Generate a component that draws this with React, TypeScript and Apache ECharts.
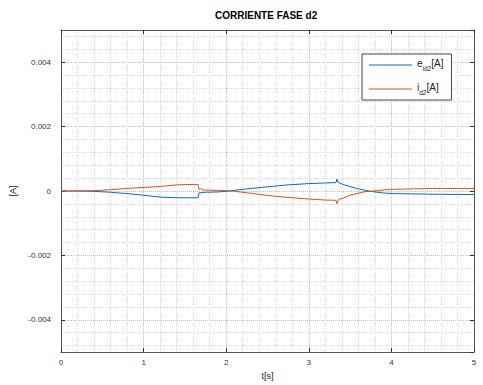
import React, { useEffect, useRef } from "react";
import * as echarts from "echarts";

// e_id2[A] (blue)
const eTime = [0, 0.2, 0.4, 0.6, 0.8, 1.0, 1.2, 1.4, 1.66, 1.67, 1.75, 1.9, 2.0, 2.1, 2.2, 2.3, 2.5, 2.75, 3.0, 3.2, 3.33, 3.34, 3.36, 3.43, 3.58, 3.74, 3.9, 4.0, 4.5, 5.0];
const eVal = [0, 0, -0.00001, -0.00004, -0.00008, -0.00013, -0.00019, -0.00021, -0.00021, -0.00006, -0.00004, -0.00003, -0.00001, 0.00002, 0.00005, 0.00008, 0.00013, 0.00019, 0.00023, 0.00025, 0.00026, 0.00037, 0.00026, 0.00019, 0.00008, -0.00001, -0.00006, -0.00008, -0.0001, -0.00011];

// i_d2[A] (orange)
const iTime = [0, 0.2, 0.4, 0.6, 0.8, 1.0, 1.2, 1.4, 1.5, 1.66, 1.67, 1.69, 1.72, 1.9, 2.0, 2.1, 2.2, 2.3, 2.5, 2.75, 3.0, 3.2, 3.33, 3.34, 3.36, 3.42, 3.5, 3.68, 3.74, 3.98, 4.5, 5.0];
const iVal = [0, 0, 0.00001, 0.00004, 0.00008, 0.00011, 0.00014, 0.00019, 0.0002, 0.0002, 0.00005, 0.00007, 0.00003, 0.00002, 0.00001, -0.00001, -0.00004, -0.00007, -0.00014, -0.0002, -0.00025, -0.00028, -0.00029, -0.0004, -0.00026, -0.00022, -0.00013, -0.00002, -0.00001, 0.00005, 0.00008, 0.00008];

const xTicks = [0, 1, 2, 3, 4, 5];
const yRange = [-0.005, 0.005];
const seriesNames = ["e_id2[A]", "i_d2[A]"];
const seriesColors = ["#0072BD", "#D95319"];

const TITLE = "CORRIENTE FASE d2";
const FONT = "Liberation Sans, Arial, Helvetica, sans-serif";

const MAJOR = "#c0c0c0";
const MINOR = "#dcdcdc";
const FRAME = "#555555";
const TEXT = "#222222";

export default function App() {
  const ref = useRef<HTMLDivElement>(null);
  useEffect(() => {
    if (!ref.current) return;
    const chart = echarts.init(ref.current, null, { renderer: "svg" });
    const ePts = eTime.map((t, k) => [t, eVal[k]]);
    const iPts = iTime.map((t, k) => [t, iVal[k]]);
    const T = "rgba(0,0,0,0)";
    // minor y grid: ticks every 0.0002 from -0.005, draw only at multiples of 0.0004 that are not majors
    const minorColors = [T, MINOR, T, MINOR, T, T, T, MINOR, T, MINOR];
    const option: any = {
      animation: false,
      backgroundColor: "#fff",
      textStyle: { fontFamily: FONT },
      title: {
        text: TITLE,
        left: 215,
        top: 10,
        padding: 0,
        textStyle: { fontSize: 10, fontWeight: "bold", color: "#000", fontFamily: FONT },
      },
      grid: { left: 61, right: 9, top: 30, bottom: 30, containLabel: false },
      legend: {
        orient: "vertical",
        left: 362,
        top: 54,
        padding: [4, 8, 4, 7],
        icon: "rect",
        itemWidth: 43,
        itemHeight: 1.2,
        itemGap: 10,
        borderColor: "#444",
        borderWidth: 1,
        backgroundColor: "#fff",
        data: seriesNames.map((n, k) => ({
          name: n,
          icon: "rect",
          itemStyle: { color: seriesColors[k], borderWidth: 0 },
          textStyle: { color: TEXT },
        })),
        formatter: (name: string) =>
          name === seriesNames[0] ? "{n|e}{s|id2}{n|[A]}" : "{n|i}{s|d2}{n|[A]}",
        textStyle: {
          fontFamily: FONT,
          color: TEXT,
          rich: {
            n: { fontSize: 10, color: TEXT, fontFamily: FONT, verticalAlign: "top", padding: [0, 0, 4, 0] },
            s: { fontSize: 6.5, color: TEXT, fontFamily: FONT, verticalAlign: "bottom", padding: [6, 0, 0, 0] },
          },
        },
      },
      xAxis: [
        {
          type: "value",
          min: xTicks[0],
          max: xTicks[xTicks.length - 1],
          interval: 1,
          position: "bottom",
          name: "t[s]",
          nameLocation: "middle",
          nameGap: 19,
          nameTextStyle: { fontSize: 9, color: TEXT, fontFamily: FONT },
          axisLine: { show: true, onZero: false, lineStyle: { color: FRAME, width: 1 } },
          axisTick: { show: true, inside: true, length: 4, lineStyle: { color: "#333" } },
          axisLabel: { fontSize: 8, color: "#333", margin: 6, fontFamily: FONT },
          minorTick: { show: false, splitNumber: 5 },
          minorSplitLine: { show: true, lineStyle: { color: MINOR, type: [1, 1], width: 1 } },
          splitLine: { show: true, lineStyle: { color: MAJOR, type: [1, 1], width: 1 } },
        },
        {
          type: "value",
          min: xTicks[0],
          max: xTicks[xTicks.length - 1],
          interval: 1,
          position: "top",
          axisLine: { show: true, onZero: false, lineStyle: { color: FRAME, width: 1 } },
          axisTick: { show: true, inside: true, length: 4, lineStyle: { color: "#333" } },
          axisLabel: { show: false },
          splitLine: { show: false },
        },
      ],
      yAxis: [
        {
          type: "value",
          min: yRange[0],
          max: yRange[1],
          splitNumber: 5,
          position: "left",
          name: "[A]",
          nameLocation: "middle",
          nameGap: 38,
          nameTextStyle: { fontSize: 9, color: TEXT, fontFamily: FONT },
          axisLine: { show: true, onZero: false, lineStyle: { color: FRAME, width: 1 } },
          axisTick: { show: true, inside: true, length: 4, lineStyle: { color: "#333" } },
          axisLabel: {
            fontSize: 8,
            color: "#333",
            margin: 10,
            fontFamily: FONT,
            showMinLabel: false,
            showMaxLabel: false,
            formatter: (v: number) => String(parseFloat(v.toFixed(4))),
          },
          splitLine: { show: true, lineStyle: { color: MAJOR, type: [1, 1], width: 1 } },
        },
        {
          type: "value",
          min: yRange[0],
          max: yRange[1],
          interval: 0.0002,
          position: "left",
          axisLine: { show: false },
          axisTick: { show: false },
          axisLabel: { show: false },
          splitLine: { show: true, lineStyle: { color: minorColors, type: [1, 1], width: 1 } },
        },
        {
          type: "value",
          min: yRange[0],
          max: yRange[1],
          splitNumber: 5,
          position: "right",
          axisLine: { show: true, onZero: false, lineStyle: { color: FRAME, width: 1 } },
          axisTick: { show: true, inside: true, length: 4, lineStyle: { color: "#333" } },
          axisLabel: { show: false },
          splitLine: { show: false },
        },
      ],
      series: [
        {
          name: seriesNames[0],
          type: "line",
          data: ePts,
          symbol: "none",
          smooth: false,
          lineStyle: { color: seriesColors[0], width: 1 },
          itemStyle: { color: seriesColors[0] },
          z: 3,
        },
        {
          name: seriesNames[1],
          type: "line",
          data: iPts,
          symbol: "none",
          smooth: false,
          lineStyle: { color: seriesColors[1], width: 1 },
          itemStyle: { color: seriesColors[1] },
          z: 4,
        },
      ],
    };
    chart.setOption(option);
    return () => chart.dispose();
  }, []);
  return (
    <div
      ref={ref}
      style={{ position: "fixed", left: 0, top: 0, width: 483, height: 385 }}
    />
  );
}
